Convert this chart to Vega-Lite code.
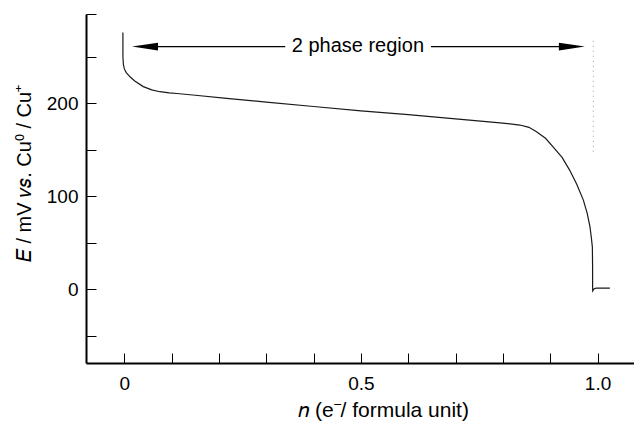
{
  "$schema": "https://vega.github.io/schema/vega-lite/v6.json",
  "autosize": "none",
  "width": 548,
  "height": 349,
  "padding": {"left": 86, "top": 14, "right": 0, "bottom": 59},
  "background": "white",
  "config": {
    "view": {"stroke": null},
    "font": "Liberation Sans",
    "axis": {
      "grid": false,
      "domainColor": "black",
      "domainWidth": 2,
      "tickColor": "black",
      "tickWidth": 1,
      "tickSize": -10,
      "labelFont": "Liberation Sans",
      "labelFontSize": 19,
      "labelColor": "black",
      "titleFont": "Liberation Sans",
      "titleFontSize": 20,
      "titleFontWeight": "normal",
      "titleColor": "black"
    }
  },
  "datasets": {
    "curve": [
      {"i": 1, "n": -0.003, "E": 276},
      {"i": 2, "n": -0.003, "E": 262},
      {"i": 3, "n": -0.003, "E": 250},
      {"i": 4, "n": -0.002, "E": 242},
      {"i": 5, "n": 0.0, "E": 237},
      {"i": 6, "n": 0.004, "E": 233},
      {"i": 7, "n": 0.012, "E": 228.5},
      {"i": 8, "n": 0.022, "E": 224},
      {"i": 9, "n": 0.04, "E": 218},
      {"i": 10, "n": 0.058, "E": 214.5},
      {"i": 11, "n": 0.075, "E": 212.5},
      {"i": 12, "n": 0.095, "E": 211.2},
      {"i": 13, "n": 0.111, "E": 210.6},
      {"i": 14, "n": 0.15, "E": 208.7},
      {"i": 15, "n": 0.216, "E": 205.4},
      {"i": 16, "n": 0.3, "E": 201.4},
      {"i": 17, "n": 0.4, "E": 196.6},
      {"i": 18, "n": 0.5, "E": 192},
      {"i": 19, "n": 0.6, "E": 187.8},
      {"i": 20, "n": 0.7, "E": 183.4},
      {"i": 21, "n": 0.794, "E": 179.1},
      {"i": 22, "n": 0.836, "E": 176.7},
      {"i": 23, "n": 0.855, "E": 174.2},
      {"i": 24, "n": 0.871, "E": 169.5},
      {"i": 25, "n": 0.89, "E": 162.5},
      {"i": 26, "n": 0.906, "E": 153.3},
      {"i": 27, "n": 0.925, "E": 142},
      {"i": 28, "n": 0.941, "E": 128.3},
      {"i": 29, "n": 0.956, "E": 113},
      {"i": 30, "n": 0.97, "E": 96},
      {"i": 31, "n": 0.978, "E": 82},
      {"i": 32, "n": 0.984, "E": 67.3},
      {"i": 33, "n": 0.987, "E": 55},
      {"i": 34, "n": 0.989, "E": 45.8},
      {"i": 35, "n": 0.9895, "E": 25},
      {"i": 36, "n": 0.9895, "E": 5},
      {"i": 37, "n": 0.9897, "E": -1.5},
      {"i": 38, "n": 0.993, "E": 0.8},
      {"i": 39, "n": 0.997, "E": 1.4},
      {"i": 40, "n": 1.026, "E": 1.4}
    ],
    "shafts": [
      {"from": 0.044, "to": 0.34, "E": 261},
      {"from": 0.648, "to": 0.946, "E": 261}
    ],
    "heads": [
      {"n": 0.0437, "E": 261, "dir": "left"},
      {"n": 0.9457, "E": 261, "dir": "right"}
    ],
    "label": [
      {"n": 0.4935, "E": 255.5, "text": "2 phase region"}
    ],
    "boundary": [
      {"n": 0.991, "from": 148, "to": 270}
    ]
  },
  "layer": [
    {
      "data": {"name": "boundary"},
      "mark": {"type": "rule", "color": "#999999", "strokeWidth": 1, "strokeDash": [1, 4]},
      "encoding": {
        "x": {"field": "n", "type": "quantitative", "scale": {"domain": [-0.081, 1.077], "nice": false, "zero": false},
          "axis": {
            "values": [0, 0.1, 0.2, 0.3, 0.4, 0.5, 0.6, 0.7, 0.8, 0.9, 1.0],
            "labelExpr": "datum.value == 0 ? '0' : (datum.value == 0.5 ? '0.5' : (datum.value == 1 ? '1.0' : ''))",
            "labelPadding": 21,
            "title": "𝑛 (e⁻/ formula unit)",
            "titleFontSize": 21,
            "titleX": 297,
            "titleY": 53,
            "titleBaseline": "alphabetic",
            "titleAlign": "center"
          }
        },
        "y": {"field": "from", "type": "quantitative", "scale": {"domain": [-79, 296], "nice": false, "zero": false},
          "axis": {
            "values": [-50, 0, 50, 100, 150, 200, 250, 296],
            "labelExpr": "(datum.value == 0 || datum.value == 100 || datum.value == 200) ? datum.label : ''",
            "labelPadding": 18,
            "title": "𝐸 / mV 𝑣𝑠. Cu⁰ / Cu⁺",
            "titleAngle": -90,
            "titleX": -62,
            "titleY": 159,
            "titleAlign": "center",
            "titleBaseline": "middle"
          }
        },
        "y2": {"field": "to"}
      }
    },
    {
      "data": {"name": "curve"},
      "mark": {"type": "line", "color": "#1a1a1a", "strokeWidth": 1.2},
      "encoding": {
        "x": {"field": "n", "type": "quantitative"},
        "y": {"field": "E", "type": "quantitative"},
        "order": {"field": "i", "type": "quantitative"}
      }
    },
    {
      "data": {"name": "shafts"},
      "mark": {"type": "rule", "color": "black", "strokeWidth": 1.3},
      "encoding": {
        "x": {"field": "from", "type": "quantitative"},
        "x2": {"field": "to"},
        "y": {"field": "E", "type": "quantitative"}
      }
    },
    {
      "data": {"name": "heads"},
      "mark": {"type": "point", "filled": true, "color": "black", "opacity": 1, "size": 676},
      "encoding": {
        "x": {"field": "n", "type": "quantitative"},
        "y": {"field": "E", "type": "quantitative"},
        "shape": {
          "field": "dir", "type": "nominal",
          "scale": {"domain": ["left", "right"], "range": ["M -1 0 L 1 -0.3 L 1 0.3 Z", "M 1 0 L -1 -0.3 L -1 0.3 Z"]},
          "legend": null
        }
      }
    },
    {
      "data": {"name": "label"},
      "mark": {"type": "text", "font": "Liberation Sans", "fontSize": 20, "color": "black", "align": "center", "baseline": "alphabetic"},
      "encoding": {
        "x": {"field": "n", "type": "quantitative"},
        "y": {"field": "E", "type": "quantitative"},
        "text": {"field": "text"}
      }
    }
  ]
}
